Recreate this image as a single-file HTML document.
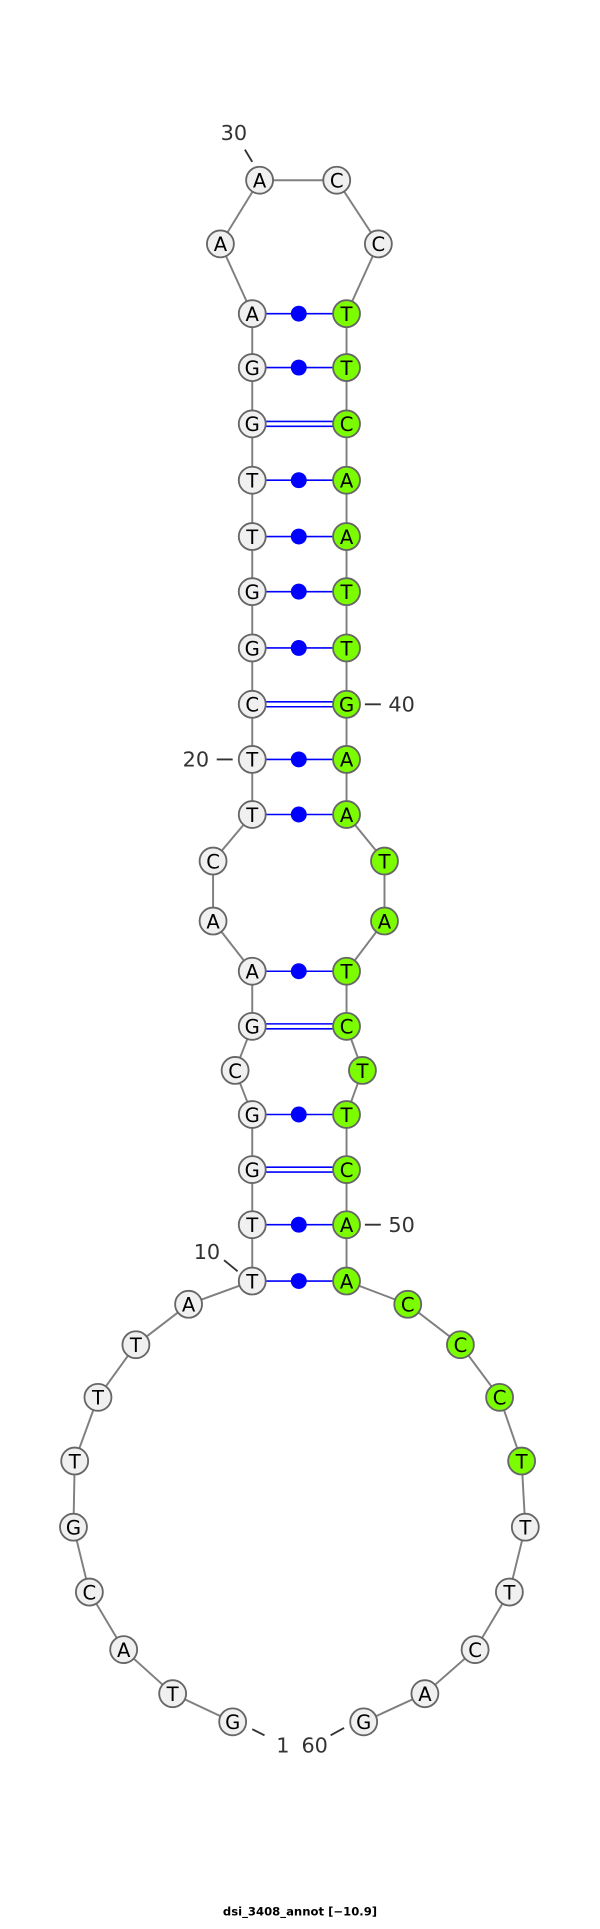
<!DOCTYPE html>
<html><head><meta charset="utf-8"><style>
html,body{margin:0;padding:0;background:#fff;width:600px;height:1929px;overflow:hidden}
svg{display:block}
.b{stroke:#808080;stroke-width:1.6;fill:none}
.p{stroke:#0000ff;stroke-width:1.3;fill:none}
.n circle{stroke:#666;stroke-width:1.5}
.w{fill:#f0f0f0}.g{fill:#7cfc00}
text{font-family:"DejaVu Sans","Liberation Sans",sans-serif}
.n text{font-size:16px;text-anchor:middle;fill:#000}
.l{font-size:17px;fill:#333;text-anchor:middle}
</style></head><body>
<svg width="600" height="1929" viewBox="0 0 490 1575" xmlns="http://www.w3.org/2000/svg">
<polyline class="b" points="190,1406 141,1383 101,1347 73,1300 60,1247 61,1193 80,1141 111,1098 154,1065 206,1046 206,1000 206,955 206,910 192,874 206,838 206,793 174,752 174,703 206,665 206,620 206,575 206,529 206,483 206,438 206,392 206,346 206,300 206,256 180,199 212,147 275,147 309,199 283,256 283,300 283,346 283,392 283,438 283,483 283,529 283,575 283,620 283,665 314,703 314,752 283,793 283,838 296,874 283,910 283,955 283,1000 283,1046 333,1065 376,1098 408,1141 426,1193 429,1247 416,1300 388,1347 347,1383 297,1406"/>
<g class="p">
<line x1="206" y1="256" x2="283" y2="256"/><line x1="206" y1="300" x2="283" y2="300"/>
<line x1="206" y1="344" x2="283" y2="344"/><line x1="206" y1="348" x2="283" y2="348"/>
<line x1="206" y1="392" x2="283" y2="392"/><line x1="206" y1="438" x2="283" y2="438"/>
<line x1="206" y1="483" x2="283" y2="483"/><line x1="206" y1="529" x2="283" y2="529"/>
<line x1="206" y1="573" x2="283" y2="573"/><line x1="206" y1="577" x2="283" y2="577"/>
<line x1="206" y1="620" x2="283" y2="620"/><line x1="206" y1="665" x2="283" y2="665"/>
<line x1="206" y1="793" x2="283" y2="793"/>
<line x1="206" y1="836" x2="283" y2="836"/><line x1="206" y1="840" x2="283" y2="840"/>
<line x1="206" y1="910" x2="283" y2="910"/>
<line x1="206" y1="953" x2="283" y2="953"/><line x1="206" y1="957" x2="283" y2="957"/>
<line x1="206" y1="1000" x2="283" y2="1000"/><line x1="206" y1="1046" x2="283" y2="1046"/>
</g>
<g fill="#0000ff">
<circle cx="244" cy="256" r="6.5"/><circle cx="244" cy="300" r="6.5"/><circle cx="244" cy="392" r="6.5"/><circle cx="244" cy="438" r="6.5"/><circle cx="244" cy="483" r="6.5"/><circle cx="244" cy="529" r="6.5"/><circle cx="244" cy="620" r="6.5"/><circle cx="244" cy="665" r="6.5"/><circle cx="244" cy="793" r="6.5"/><circle cx="244" cy="910" r="6.5"/><circle cx="244" cy="1000" r="6.5"/><circle cx="244" cy="1046" r="6.5"/>
</g>
<g stroke="#333" stroke-width="1.5">
<line x1="200" y1="122" x2="206" y2="132"/><line x1="298" y1="575" x2="311" y2="575"/>
<line x1="177" y1="620" x2="190" y2="620"/><line x1="298" y1="1000" x2="311" y2="1000"/>
<line x1="183" y1="1029" x2="194" y2="1038"/><line x1="206" y1="1412" x2="216" y2="1417"/><line x1="270" y1="1417" x2="281" y2="1411"/>
</g>
<text class="l" x="191" y="114">30</text>
<text class="l" x="328" y="581">40</text>
<text class="l" x="160" y="626">20</text>
<text class="l" x="328" y="1006">50</text>
<text class="l" x="169" y="1028">10</text>
<text class="l" x="231" y="1431">1</text>
<text class="l" x="257" y="1431">60</text>
<g class="n">
<circle class="w" cx="190" cy="1406" r="11"/><text x="190" y="1412">G</text>
<circle class="w" cx="141" cy="1383" r="11"/><text x="141" y="1389">T</text>
<circle class="w" cx="101" cy="1347" r="11"/><text x="101" y="1353">A</text>
<circle class="w" cx="73" cy="1300" r="11"/><text x="73" y="1306">C</text>
<circle class="w" cx="60" cy="1247" r="11"/><text x="60" y="1253">G</text>
<circle class="w" cx="61" cy="1193" r="11"/><text x="61" y="1199">T</text>
<circle class="w" cx="80" cy="1141" r="11"/><text x="80" y="1147">T</text>
<circle class="w" cx="111" cy="1098" r="11"/><text x="111" y="1104">T</text>
<circle class="w" cx="154" cy="1065" r="11"/><text x="154" y="1071">A</text>
<circle class="w" cx="206" cy="1046" r="11"/><text x="206" y="1052">T</text>
<circle class="w" cx="206" cy="1000" r="11"/><text x="206" y="1006">T</text>
<circle class="w" cx="206" cy="955" r="11"/><text x="206" y="961">G</text>
<circle class="w" cx="206" cy="910" r="11"/><text x="206" y="916">G</text>
<circle class="w" cx="192" cy="874" r="11"/><text x="192" y="880">C</text>
<circle class="w" cx="206" cy="838" r="11"/><text x="206" y="844">G</text>
<circle class="w" cx="206" cy="793" r="11"/><text x="206" y="799">A</text>
<circle class="w" cx="174" cy="752" r="11"/><text x="174" y="758">A</text>
<circle class="w" cx="174" cy="703" r="11"/><text x="174" y="709">C</text>
<circle class="w" cx="206" cy="665" r="11"/><text x="206" y="671">T</text>
<circle class="w" cx="206" cy="620" r="11"/><text x="206" y="626">T</text>
<circle class="w" cx="206" cy="575" r="11"/><text x="206" y="581">C</text>
<circle class="w" cx="206" cy="529" r="11"/><text x="206" y="535">G</text>
<circle class="w" cx="206" cy="483" r="11"/><text x="206" y="489">G</text>
<circle class="w" cx="206" cy="438" r="11"/><text x="206" y="444">T</text>
<circle class="w" cx="206" cy="392" r="11"/><text x="206" y="398">T</text>
<circle class="w" cx="206" cy="346" r="11"/><text x="206" y="352">G</text>
<circle class="w" cx="206" cy="300" r="11"/><text x="206" y="306">G</text>
<circle class="w" cx="206" cy="256" r="11"/><text x="206" y="262">A</text>
<circle class="w" cx="180" cy="199" r="11"/><text x="180" y="205">A</text>
<circle class="w" cx="212" cy="147" r="11"/><text x="212" y="153">A</text>
<circle class="w" cx="275" cy="147" r="11"/><text x="275" y="153">C</text>
<circle class="w" cx="309" cy="199" r="11"/><text x="309" y="205">C</text>
<circle class="g" cx="283" cy="256" r="11"/><text x="283" y="262">T</text>
<circle class="g" cx="283" cy="300" r="11"/><text x="283" y="306">T</text>
<circle class="g" cx="283" cy="346" r="11"/><text x="283" y="352">C</text>
<circle class="g" cx="283" cy="392" r="11"/><text x="283" y="398">A</text>
<circle class="g" cx="283" cy="438" r="11"/><text x="283" y="444">A</text>
<circle class="g" cx="283" cy="483" r="11"/><text x="283" y="489">T</text>
<circle class="g" cx="283" cy="529" r="11"/><text x="283" y="535">T</text>
<circle class="g" cx="283" cy="575" r="11"/><text x="283" y="581">G</text>
<circle class="g" cx="283" cy="620" r="11"/><text x="283" y="626">A</text>
<circle class="g" cx="283" cy="665" r="11"/><text x="283" y="671">A</text>
<circle class="g" cx="314" cy="703" r="11"/><text x="314" y="709">T</text>
<circle class="g" cx="314" cy="752" r="11"/><text x="314" y="758">A</text>
<circle class="g" cx="283" cy="793" r="11"/><text x="283" y="799">T</text>
<circle class="g" cx="283" cy="838" r="11"/><text x="283" y="844">C</text>
<circle class="g" cx="296" cy="874" r="11"/><text x="296" y="880">T</text>
<circle class="g" cx="283" cy="910" r="11"/><text x="283" y="916">T</text>
<circle class="g" cx="283" cy="955" r="11"/><text x="283" y="961">C</text>
<circle class="g" cx="283" cy="1000" r="11"/><text x="283" y="1006">A</text>
<circle class="g" cx="283" cy="1046" r="11"/><text x="283" y="1052">A</text>
<circle class="g" cx="333" cy="1065" r="11"/><text x="333" y="1071">C</text>
<circle class="g" cx="376" cy="1098" r="11"/><text x="376" y="1104">C</text>
<circle class="g" cx="408" cy="1141" r="11"/><text x="408" y="1147">C</text>
<circle class="g" cx="426" cy="1193" r="11"/><text x="426" y="1199">T</text>
<circle class="w" cx="429" cy="1247" r="11"/><text x="429" y="1253">T</text>
<circle class="w" cx="416" cy="1300" r="11"/><text x="416" y="1306">T</text>
<circle class="w" cx="388" cy="1347" r="11"/><text x="388" y="1353">C</text>
<circle class="w" cx="347" cy="1383" r="11"/><text x="347" y="1389">A</text>
<circle class="w" cx="297" cy="1406" r="11"/><text x="297" y="1412">G</text>
</g>
<text x="245" y="1564" style="font-size:9.5px;font-weight:bold;text-anchor:middle;fill:#000">dsi_3408_annot [−10.9]</text>
</svg>
</body></html>
